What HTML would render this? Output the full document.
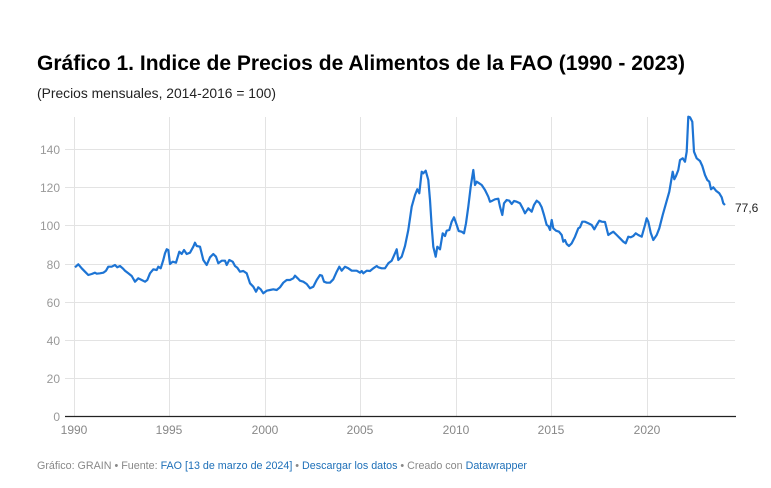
<!DOCTYPE html>
<html><head><meta charset="utf-8"><style>
html,body{margin:0;padding:0;background:#fff;}
svg{display:block;font-family:"Liberation Sans",sans-serif;}
</style></head><body>
<svg id="s" width="771" height="488" viewBox="0 0 771 488" xmlns="http://www.w3.org/2000/svg">
<text x="37" y="70" font-size="21" font-weight="bold" fill="#000" textLength="648" lengthAdjust="spacingAndGlyphs">Gráfico 1. Indice de Precios de Alimentos de la FAO (1990 - 2023)</text>
<text x="37" y="98" font-size="13.5" fill="#222" textLength="239" lengthAdjust="spacingAndGlyphs">(Precios mensuales, 2014-2016 = 100)</text>
<g stroke="#e3e3e3" stroke-width="1">
<line x1="65" x2="735" y1="149.5" y2="149.5"/>
<line x1="65" x2="735" y1="187.5" y2="187.5"/>
<line x1="65" x2="735" y1="225.5" y2="225.5"/>
<line x1="65" x2="735" y1="264.5" y2="264.5"/>
<line x1="65" x2="735" y1="302.5" y2="302.5"/>
<line x1="65" x2="735" y1="340.5" y2="340.5"/>
<line x1="65" x2="735" y1="378.5" y2="378.5"/>
<line x1="74.5" x2="74.5" y1="117" y2="416"/>
<line x1="169.5" x2="169.5" y1="117" y2="416"/>
<line x1="265.5" x2="265.5" y1="117" y2="416"/>
<line x1="360.5" x2="360.5" y1="117" y2="416"/>
<line x1="456.5" x2="456.5" y1="117" y2="416"/>
<line x1="551.5" x2="551.5" y1="117" y2="416"/>
<line x1="647.5" x2="647.5" y1="117" y2="416"/>
</g>
<line x1="65" x2="736" y1="416.5" y2="416.5" stroke="#222" stroke-width="1.2"/>
<g font-size="12" fill="#999" text-anchor="end">
<text x="60" y="154">140</text><text x="60" y="192">120</text><text x="60" y="230">100</text>
<text x="60" y="269">80</text><text x="60" y="307">60</text><text x="60" y="345">40</text>
<text x="60" y="383">20</text><text x="60" y="421">0</text>
</g>
<g font-size="12" fill="#888" text-anchor="middle">
<text x="74" y="434">1990</text><text x="169" y="434">1995</text><text x="265" y="434">2000</text>
<text x="360" y="434">2005</text><text x="456" y="434">2010</text><text x="551" y="434">2015</text><text x="647" y="434">2020</text>
</g>
<polyline id="ln" fill="none" stroke="#1d74d4" stroke-width="2.2" stroke-linejoin="round" points=""/>
<text x="735" y="212" font-size="12" fill="#222">77,6</text>
<text x="37" y="469" font-size="11" fill="#888" textLength="490" lengthAdjust="spacingAndGlyphs">Gráfico: GRAIN • Fuente: <tspan fill="#1d6fb8">FAO [13 de marzo de 2024]</tspan> • <tspan fill="#1d6fb8">Descargar los datos</tspan> • Creado con <tspan fill="#1d6fb8">Datawrapper</tspan></text>
</svg>
<script>
var a=[[135,502],[145,493],[155,505],[165,515],[175,525],[185,522],[195,518],[200,521],[210,520],[220,518],[228,512],[235,500],[245,500],[255,495],[262,502],[270,498],[278,505],[285,512],[295,520],[305,528],[315,545],[325,535],[335,540],[345,545],[352,540],[360,520],[370,508],[380,510],[385,500],[392,505],[400,480],[405,460],[410,448],[415,450],[420,492],[428,485],[438,488],[448,455],[455,462],[462,450],[470,462],[480,458],[490,440],[495,428],[500,438],[510,440],[520,480],[530,495],[540,472],[550,462],[558,470],[565,490],[575,482],[585,482],[590,495],[598,480],[608,485],[615,498],[622,503],[630,515],[640,513],[650,520],[660,550],[670,560],[678,575],[685,562],[692,568],[700,580],[710,572],[720,570],[730,568],[740,570],[750,562],[760,548],[770,540],[780,540],[790,535],[795,527],[803,535],[810,542],[820,545],[830,552],[840,565],[850,560],[860,540],[870,525],[876,527],[882,545],[890,548],[900,548],[910,538],[920,515],[928,500],[935,512],[945,500],[955,505],[965,512],[980,512],[990,518],[995,513],[1000,520],[1010,512],[1020,513],[1030,505],[1040,498],[1045,502],[1055,505],[1065,505],[1075,490],[1085,482],[1095,460],[1100,448],[1105,480],[1115,470],[1125,438],[1135,390],[1145,320],[1155,285],[1162,268],[1168,280],[1175,215],[1180,220],[1187,212],[1195,240]];
var b=[[150,300],[155,380],[160,440],[167,470],[172,440],[180,448],[188,400],[195,408],[200,392],[208,390],[215,365],[222,352],[230,375],[236,393],[245,395],[252,400],[258,370],[265,320],[272,260],[280,210],[285,255],[290,245],[295,248],[305,255],[315,270],[325,290],[330,305],[337,302],[345,298],[355,296],[360,320],[367,345],[372,310],[380,300],[388,302],[395,312],[402,303],[410,305],[420,310],[428,325],[435,340],[445,325],[455,335],[462,315],[470,302],[478,308],[485,322],[492,345],[500,375],[505,378],[510,390],[515,360],[520,385],[528,392],[537,395],[545,405],[550,425],[555,420],[560,432],[567,438],[575,430],[585,410],[595,385],[600,382],[607,365],[615,365],[625,370],[635,375],[643,388],[650,375],[658,362],[665,365],[675,366],[685,405],[692,400],[700,395],[710,405],[720,415],[730,425],[737,430],[745,410],[752,412],[760,408],[767,400],[775,405],[785,410],[795,375],[800,355],[805,365],[812,398],[820,420],[830,405],[838,385],[848,345],[858,310],[868,275],[878,215],[883,238],[888,228],[895,210],[900,180],[908,175],[915,185],[920,155],[925,50],[930,52],[937,65],[942,155],[950,175],[960,183],[967,198],[975,225],[982,240],[988,245],[993,268],[1000,262],[1008,272],[1018,280],[1025,292],[1030,310],[1035,315]];
var p=[];
a.forEach(function(q){p.push((30+q[0]/3).toFixed(1)+","+(100+q[1]/3).toFixed(1));});
b.forEach(function(q){p.push((380+q[0]/3).toFixed(1)+","+(100+q[1]/3).toFixed(1));});
document.getElementById("ln").setAttribute("points",p.join(" "));
</script>
</body></html>
